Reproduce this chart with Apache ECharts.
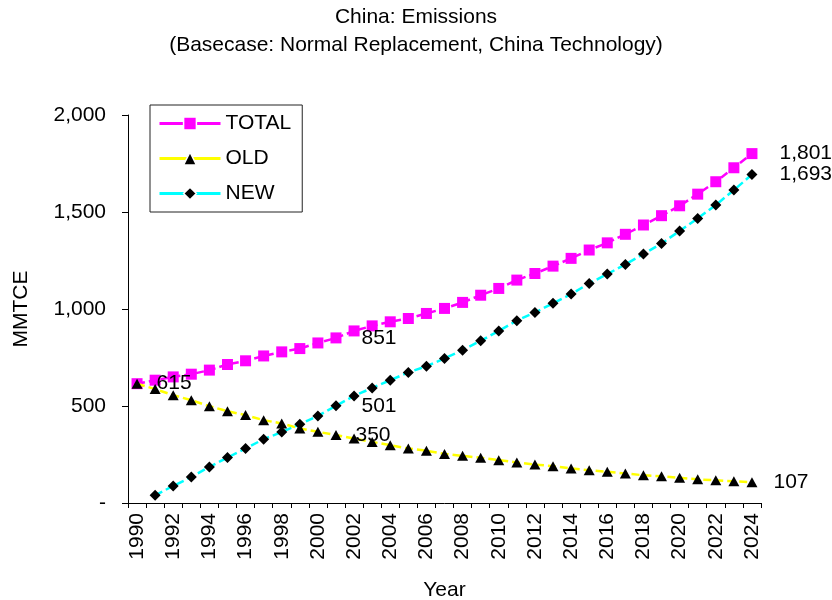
<!DOCTYPE html>
<html>
<head>
<meta charset="utf-8">
<script src="https://cdn.jsdelivr.net/npm/echarts@6/dist/echarts.min.js"></script>
<style>
  html, body { margin: 0; padding: 0; background: #ffffff; }
  #chart { width: 832px; height: 600px; }
</style>
</head>
<body>
<div id="chart"></div>
<script>
// Years on the category axis
const years = ['1990','1991','1992','1993','1994','1995','1996','1997','1998','1999',
               '2000','2001','2002','2003','2004','2005','2006','2007','2008','2009',
               '2010','2011','2012','2013','2014','2015','2016','2017','2018','2019',
               '2020','2021','2022','2023','2024'];

// Emissions, MMTCE
const totalValues = [615, 633, 650, 664, 685, 714, 733, 758, 779, 796,
                     825, 851, 887, 913, 934, 951, 977, 1003, 1034, 1071,
                     1106, 1149, 1183, 1221, 1261, 1304, 1341, 1385, 1433, 1481,
                     1532, 1592, 1656, 1728, 1801];
const oldValues   = [615, 587, 556, 530, 499, 473, 453, 427, 410, 384,
                     367, 350, 332, 315, 298, 281, 269, 253, 243, 233,
                     221, 209, 198, 190, 178, 169, 161, 152, 143, 138,
                     130, 122, 117, 112, 107];
const newValues   = [null, 40, 88, 134, 186, 234, 281, 329, 366, 406,
                     449, 501, 552, 593, 633, 673, 705, 745, 788, 836,
                     887, 940, 982, 1029, 1077, 1132, 1180, 1230, 1283, 1338,
                     1402, 1467, 1536, 1613, 1693];

// Y axis ticks
const yTicks = [0, 500, 1000, 1500, 2000];

// Points that carry a value label (year index)
const totalLabelIdx = [11, 34];
const oldLabelIdx   = [0, 11, 34];
const newLabelIdx   = [11, 34];

const FONT = "'Liberation Sans', Arial, sans-serif";
const FS = 21;

function withCommas(v) {
  return String(v).replace(/\B(?=(\d{3})+(?!\d))/g, ',');
}

function labelled(values, idxList, distances) {
  return values.map((v, i) => {
    const k = idxList.indexOf(i);
    if (k < 0 || v == null) return v;
    return {
      value: v,
      label: {
        show: true,
        position: 'right',
        distance: distances[k],
        color: '#000',
        fontFamily: FONT,
        fontSize: FS,
        formatter: p => withCommas(p.value)
      }
    };
  });
}

const chart = echarts.init(document.getElementById('chart'), null, { renderer: 'canvas' });

chart.setOption({
  animation: false,
  backgroundColor: '#ffffff',
  title: {
    text: 'China: Emissions\n(Basecase: Normal Replacement, China Technology)',
    left: 'center',
    top: -2,
    textStyle: {
      fontFamily: FONT,
      fontSize: FS,
      fontWeight: 'normal',
      color: '#000',
      lineHeight: 28
    }
  },
  legend: {
    left: 150,
    top: 105,
    orient: 'vertical',
    selectedMode: false,
    padding: [8, 11, 8, 8],
    itemGap: 14,
    itemWidth: 61,
    itemHeight: 16,
    borderColor: '#222',
    borderWidth: 1,
    backgroundColor: '#fff',
    textStyle: { fontFamily: FONT, fontSize: FS, color: '#000' },
    lineStyle: { type: 'solid', width: 3 },
    itemStyle: { borderColor: '#fff', borderWidth: 1.5 },
    data: ['TOTAL', 'OLD', 'NEW']
  },
  grid: { left: 128, right: 71, top: 115, bottom: 97, containLabel: false, outerBoundsMode: 'none' },
  xAxis: {
    type: 'category',
    data: years,
    boundaryGap: true,
    name: 'Year',
    nameLocation: 'middle',
    nameGap: 77,
    nameTextStyle: { fontFamily: FONT, fontSize: FS, color: '#000' },
    axisLine: { lineStyle: { color: '#000', width: 1 } },
    axisTick: { show: true, interval: 0, alignWithLabel: false, length: 5, lineStyle: { color: '#000' } },
    axisLabel: {
      interval: 1,
      rotate: 90,
      margin: 10,
      fontFamily: FONT,
      fontSize: FS,
      color: '#000'
    },
    splitLine: { show: false }
  },
  yAxis: {
    type: 'value',
    min: yTicks[0],
    max: yTicks[yTicks.length - 1],
    interval: yTicks[1] - yTicks[0],
    name: 'MMTCE',
    nameLocation: 'middle',
    nameRotate: 90,
    nameGap: 96,
    nameTextStyle: { fontFamily: FONT, fontSize: FS, color: '#000' },
    axisLine: { show: true, lineStyle: { color: '#000', width: 1 } },
    axisTick: { show: true, length: 6, lineStyle: { color: '#000' } },
    axisLabel: {
      margin: 22,
      fontFamily: FONT,
      fontSize: FS,
      color: '#000',
      formatter: v => (v === 0 ? '-' : withCommas(v))
    },
    splitLine: { show: false }
  },
  series: [
    {
      name: 'TOTAL',
      type: 'line',
      z: 2,
      data: labelled(totalValues, totalLabelIdx, [20, 22]),
      symbol: 'rect',
      symbolSize: 11,
      itemStyle: { color: '#ff00ff' },
      lineStyle: { color: '#ff00ff', width: 2.5, type: [8, 4] },
      labelLayout: { hideOverlap: false }
    },
    {
      name: 'OLD',
      type: 'line',
      z: 3,
      data: labelled(oldValues, oldLabelIdx, [14, 14, 16]),
      symbol: 'triangle',
      symbolSize: [11, 10],
      itemStyle: { color: '#000' },
      lineStyle: { color: '#ffff00', width: 2.5, type: [8, 4] }
    },
    {
      name: 'NEW',
      type: 'line',
      z: 4,
      data: labelled(newValues, newLabelIdx, [20, 22]),
      symbol: 'diamond',
      symbolSize: 11,
      itemStyle: { color: '#000' },
      lineStyle: { color: '#00ffff', width: 2.5, type: [8, 4] }
    }
  ]
});
</script>
</body>
</html>
